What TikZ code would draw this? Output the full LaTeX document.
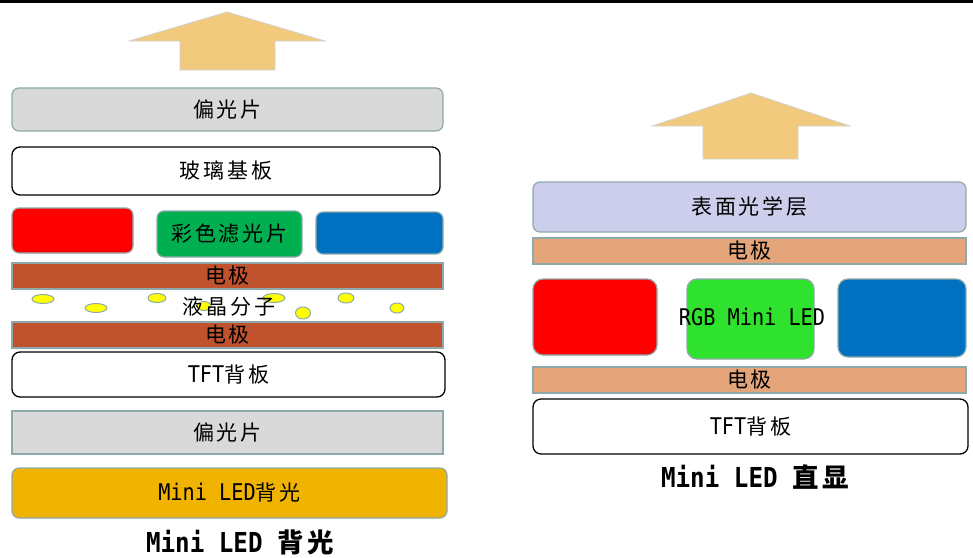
\documentclass[tikz,border=0pt]{standalone}
\usepackage{fontspec}
\setmainfont{Noto Sans CJK SC}
\newfontfamily\cjk[LetterSpace=14]{Noto Sans CJK SC}
\newfontfamily\lat[FakeStretch=0.88]{DejaVu Sans Mono}
\newcommand\cjkt{\cjk\fontsize{21}{21}\selectfont}
\newcommand\lt[1]{{\lat\fontsize{23}{23}\selectfont #1}}
\newcommand\ltb[1]{{\lat\bfseries\fontsize{27.5}{27}\selectfont #1}}
\newcommand\cjkb{\cjk\bfseries\fontsize{26.5}{26}\selectfont}
\definecolor{bordergray}{HTML}{8FA9AA}
\definecolor{polgray}{HTML}{D9D9D9}
\definecolor{redc}{HTML}{FF0000}
\definecolor{greenL}{HTML}{00B050}
\definecolor{bluec}{HTML}{0070C0}
\definecolor{brownL}{HTML}{C0532E}
\definecolor{goldc}{HTML}{F0B400}
\definecolor{arrowfill}{HTML}{F2CA7E}
\definecolor{lavender}{HTML}{CDCDEC}
\definecolor{orangeR}{HTML}{E3A579}
\definecolor{greenR}{HTML}{2EE22E}
\definecolor{yel}{HTML}{FFFF00}
\begin{document}
\begin{tikzpicture}[x=1pt,y=-1pt,
  layer/.style={draw=bordergray, line width=1.2pt, rounded corners=7pt, inner sep=0pt, font=\cjkt},
  sqlayer/.style={draw=bordergray, line width=1.2pt, inner sep=0pt, font=\cjkt},
  whitelayer/.style={draw=black, line width=1.3pt, fill=white, rounded corners=8pt, inner sep=0pt, font=\cjkt},
  uparrow/.style={fill=arrowfill, draw=black!18, line width=0.8pt},
  lc/.style={fill=yel, draw=bordergray, line width=1pt},
  caption/.style={inner sep=0pt}]
\useasboundingbox (0,0) rectangle (973,557);
\fill (0,0) rectangle (973,2.5);

% ---- left stack: Mini LED backlight ----
\filldraw[uparrow] (227,12) -- (325,41) -- (275,41) -- (275,70) -- (180,70) -- (180,41) -- (129,41) -- cycle;
\node[layer, fill=polgray, minimum width=431pt, minimum height=43pt] (pol1) at (227.5,109.5) {偏光片};
\node[whitelayer, minimum width=428pt, minimum height=48pt] (glass) at (226,171) {玻璃基板};
\node[layer, fill=redc, minimum width=121pt, minimum height=45pt] (redL) at (72.5,230.5) {};
\node[layer, fill=greenL, minimum width=145pt, minimum height=46pt] (greenLn) at (229.5,234) {彩色滤光片};
\node[layer, fill=bluec, minimum width=127pt, minimum height=42pt] (blueL) at (379.5,233) {};
\node[sqlayer, fill=brownL, minimum width=431pt, minimum height=26pt] (elecL1) at (227.5,276) {电极};
\draw[lc] (43,299) ellipse [x radius=11pt, y radius=4.5pt];
\draw[lc] (96,308) ellipse [x radius=11pt, y radius=4.5pt];
\draw[lc] (157,298) ellipse [x radius=9pt, y radius=4.5pt];
\draw[lc] (204,306) ellipse [x radius=7pt, y radius=4.5pt];
\draw[lc] (274,298) ellipse [x radius=11pt, y radius=4.5pt];
\draw[lc] (303,313) ellipse [x radius=7.5pt, y radius=6pt];
\draw[lc] (346,298) ellipse [x radius=8pt, y radius=5pt];
\draw[lc] (397,308) ellipse [x radius=7pt, y radius=5pt];
\node[inner sep=0pt, font=\cjkt] (lctext) at (229,307) {液晶分子};
\node[sqlayer, fill=brownL, minimum width=431pt, minimum height=26pt] (elecL2) at (227.5,335) {电极};
\node[whitelayer, minimum width=433pt, minimum height=45pt] (tftL) at (228.5,374.5) {\lt{TFT}背板};
\node[sqlayer, fill=polgray, minimum width=431pt, minimum height=43pt] (pol2) at (227.5,432.5) {偏光片};
\node[layer, fill=goldc, minimum width=435pt, minimum height=50pt] (bl) at (229.5,493) {\lt{Mini LED}背光};
\node[caption] (capL) at (240,542) {\ltb{Mini LED }\cjkb 背光};

% ---- right stack: Mini LED direct display ----
\filldraw[uparrow] (751,93) -- (850,126) -- (798,126) -- (798,159) -- (703,159) -- (703,126) -- (652,126) -- cycle;
\node[layer, fill=lavender, minimum width=433pt, minimum height=50pt] (optic) at (749.5,207) {表面光学层};
\node[sqlayer, fill=orangeR, minimum width=433pt, minimum height=26pt] (elecR1) at (749.5,251) {电极};
\node[layer, rounded corners=10pt, fill=redc, minimum width=124pt, minimum height=76pt] (redR) at (595,317) {};
\node[layer, rounded corners=10pt, fill=greenR, minimum width=127pt, minimum height=80pt] (greenRn) at (750.5,319) {};
\node[layer, rounded corners=10pt, fill=bluec, minimum width=128pt, minimum height=78pt] (blueR) at (902,318) {};
\node[inner sep=0pt] (rgbtext) at (752,317) {\lt{RGB Mini LED}};
\node[sqlayer, fill=orangeR, minimum width=433pt, minimum height=26pt] (elecR2) at (749.5,380) {电极};
\node[whitelayer, minimum width=435pt, minimum height=55pt] (tftR) at (750.5,426.5) {\lt{TFT}背板};
\node[caption] (capR) at (755,477) {\ltb{Mini LED }\cjkb 直显};
\end{tikzpicture}
\end{document}
